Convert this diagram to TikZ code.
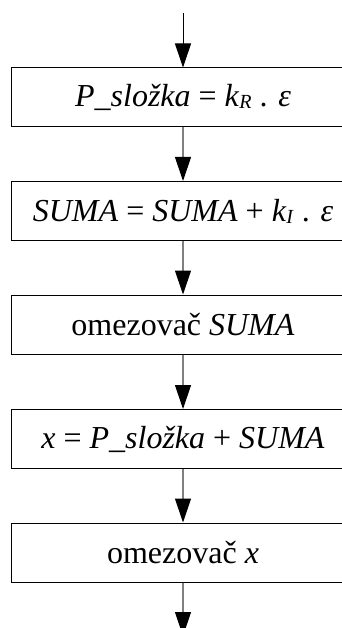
\documentclass[tikz,border=0pt]{standalone}
\usepackage{fontspec}
\setmainfont{Liberation Serif}
\usetikzlibrary{arrows.meta}
\newcommand{\mysub}[1]{\raisebox{-2pt}{\fontsize{20pt}{20pt}\selectfont\textit{#1}}}
\tikzset{
  stepbox/.style={draw=black, line width=1pt, minimum width=344pt, minimum height=59pt,
    inner sep=0pt, font=\fontsize{32pt}{36pt}\selectfont, anchor=north},
  flow/.style={draw=gray, line width=1.2pt, -{Triangle[length=24pt,width=16pt,color=black]}},
  flowtop/.style={draw=black, line width=1pt, -{Triangle[length=24pt,width=16pt,color=black]}}
}
\begin{document}
\begin{tikzpicture}[x=1pt,y=1pt]
\clip (0,0) rectangle (342,-628);
\node[stepbox] (b1) at (183,-67.5) {\textit{P\_složka} = \textit{k}\mysub{R} . \textit{ε}};
\node[stepbox] (b2) at (183,-181) {\textit{SUMA} = \textit{SUMA} + \textit{k}\mysub{I} . \textit{ε}};
\node[stepbox] (b3) at (183,-294.5) {omezovač \textit{SUMA}};
\node[stepbox] (b4) at (183,-409) {\textit{x} = \textit{P\_složka} + \textit{SUMA}};
\node[stepbox] (b5) at (183,-522.5) {omezovač \textit{x}};
\coordinate (in) at (183,-13);
\coordinate (out) at (183,-636);
\draw[flowtop] (in) -- (b1.north);
\draw[flow] (b1.south) -- (b2.north);
\draw[flow] (b2.south) -- (b3.north);
\draw[flow] (b3.south) -- (b4.north);
\draw[flow] (b4.south) -- (b5.north);
\draw[flow] (b5.south) -- (out);
\end{tikzpicture}
\end{document}
